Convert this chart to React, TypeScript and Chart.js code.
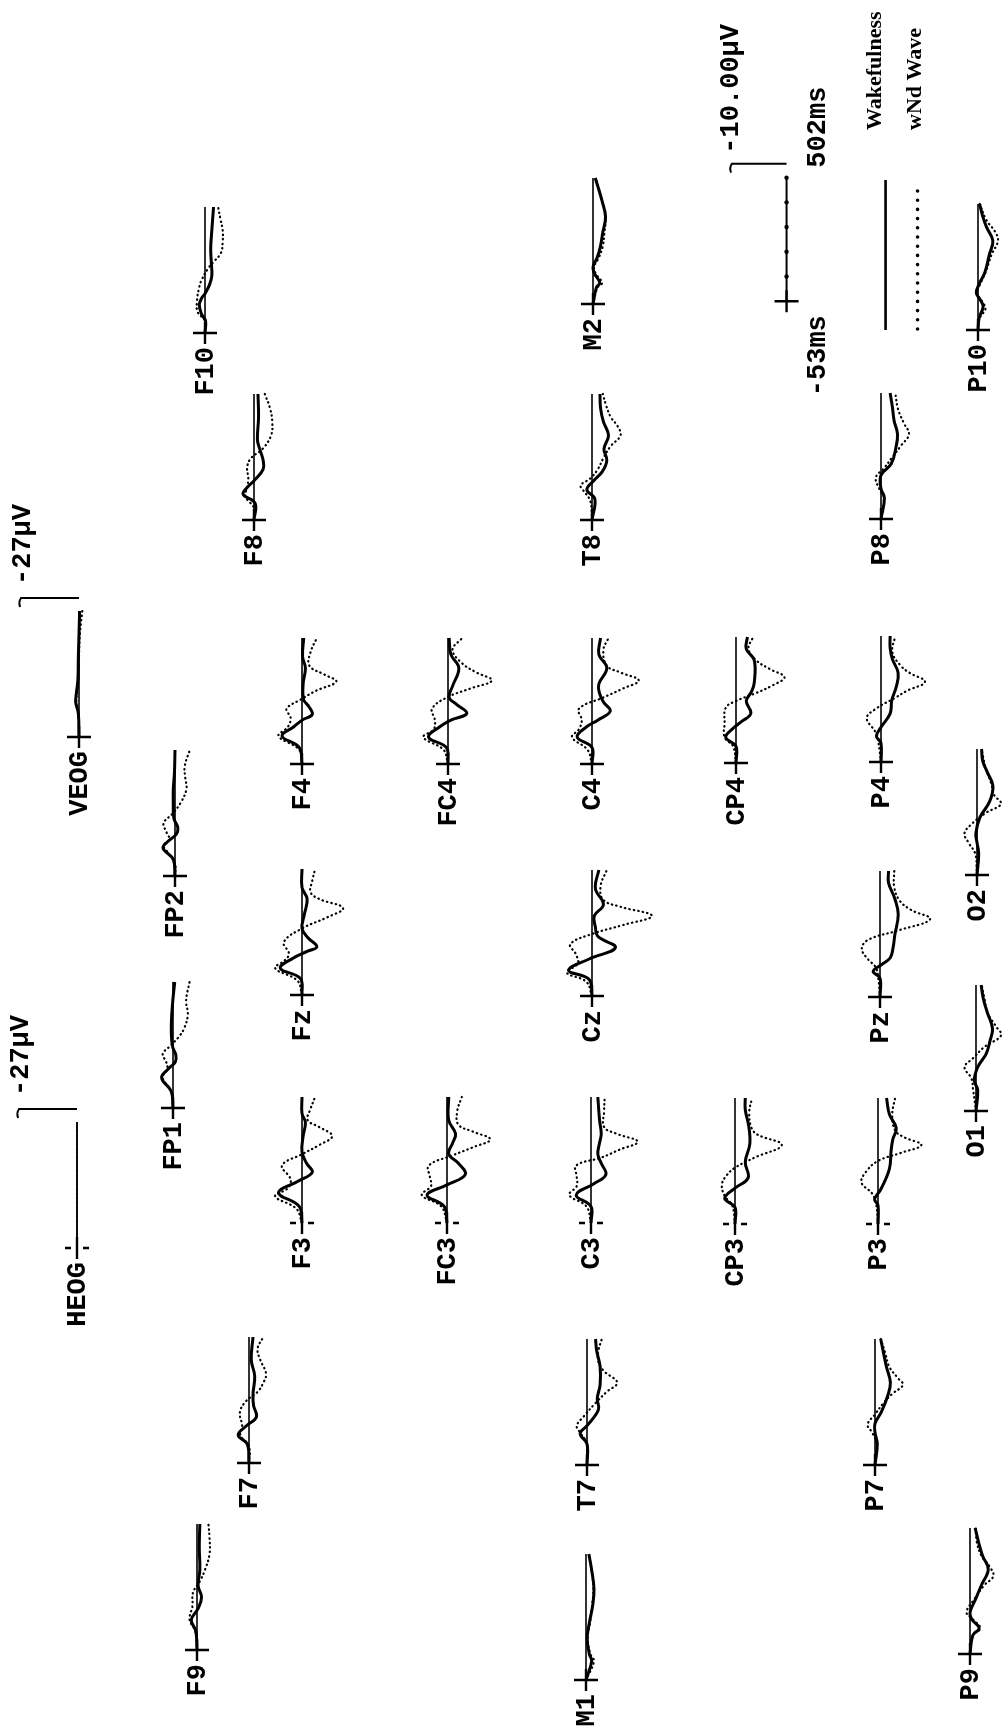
import React, { useEffect, useRef } from "react";
import { Chart, registerables } from "chart.js";

Chart.register(...registerables);

type Pt = [number, number]; // [time in ms, amplitude in µV]

// ---------------- axis / scale values ----------------
const T_START = -53;
const T_END = 502;
const AMP_CAL_UV = -10;
const EOG_CAL_UV = -27;
const CAL_TICKS_MS = [58, 169, 280, 391, 502];
const LEGEND_LABELS = ["Wakefulness", "wNd Wave"];

// ---------------- series (time ms, µV) ----------------
const F10_WAKE: Pt[] = [[-53,0],[0,0.1],[30,-0.6],[70,-1.0],[100,-0.6],[120,0],[160,0.8],[200,1.2],[260,1.1],[320,1.0],[400,1.2],[502,1.5]];
const F10_WND: Pt[] = [[-53,0],[0,0],[40,-1.3],[90,-1.4],[150,-1.0],[180,-0.6],[230,0.5],[260,1.5],[300,2.8],[350,3.1],[400,3.1],[450,2.7],[502,2.3]];
const M2_WAKE: Pt[] = [[-53,0],[20,0.6],[40,1.2],[80,0.3],[110,0],[150,0.7],[200,1.3],[260,1.7],[330,2.2],[400,1.6],[502,0.4]];
const M2_WND: Pt[] = [[-53,0],[20,0.8],[40,1.6],[80,0.5],[110,0.2],[150,1.0],[200,1.7],[260,2.0],[330,2.2],[400,1.6],[502,0.5]];
const P10_WAKE: Pt[] = [[-53,0],[0,0.2],[50,0.9],[80,0.4],[110,-0.3],[150,0.2],[200,1.2],[280,2.0],[340,2.6],[400,1.5],[450,0.8],[502,0.3]];
const P10_WND: Pt[] = [[-53,0],[0,0.3],[40,1.3],[70,0.8],[110,-0.2],[150,0.4],[200,1.3],[280,2.4],[340,3.5],[380,3.0],[430,1.5],[502,0.3]];
const F8_WAKE: Pt[] = [[-53,0],[20,0.2],[60,-1.9],[90,-1.2],[120,0],[170,1.6],[210,1.6],[260,1.0],[300,0.6],[400,0.8],[502,0.7]];
const F8_WND: Pt[] = [[-53,0],[0,0],[50,-1.5],[90,-1.2],[130,-1.0],[180,-1.2],[220,-0.5],[260,1.5],[320,3.0],[380,3.2],[440,2.8],[502,1.9]];
const T8_WAKE: Pt[] = [[-53,0],[40,0.5],[80,-0.9],[120,0.3],[160,1.8],[210,2.6],[260,2.1],[320,2.9],[380,2.0],[440,1.5],[502,1.4]];
const T8_WND: Pt[] = [[-53,0],[30,-0.3],[80,-1.6],[100,-2.0],[130,-0.3],[170,1.0],[220,2.0],[270,3.2],[320,5.0],[360,4.5],[400,3.3],[450,2.5],[502,1.9]];
const P8_WAKE: Pt[] = [[-53,0],[40,0.6],[80,0],[140,0],[190,1.8],[260,2.6],[320,2.9],[380,2.3],[440,2.0],[502,1.6]];
const P8_WND: Pt[] = [[-53,0],[40,0.5],[80,-0.3],[130,-0.9],[170,0.5],[220,2.0],[270,3.5],[320,4.9],[370,4.0],[430,3.0],[502,2.5]];
const VEOG_WAKE: Pt[] = [[-53,0],[50,-0.3],[100,-1.5],[140,-1.2],[200,-0.5],[300,-0.3],[400,0],[502,0.3]];
const VEOG_WND: Pt[] = [[-53,0],[50,-0.2],[100,-1.2],[140,-1.0],[200,-0.3],[300,0],[400,0.4],[502,1.5]];
const FP2_WAKE: Pt[] = [[-53,0],[20,-0.3],[70,-2.1],[100,-1.2],[130,0.2],[160,0.5],[200,-0.2],[260,-0.3],[330,-0.3],[400,-0.1],[502,0]];
const FP2_WND: Pt[] = [[-53,0],[0,0],[50,-1.2],[80,-2.0],[110,-1.0],[140,-1.5],[180,-2.0],[220,-0.5],[270,1.0],[330,2.0],[380,1.8],[430,1.7],[502,2.6]];
const F4_WAKE: Pt[] = [[-53,0],[20,-0.5],[70,-3.5],[110,-1.5],[140,0],[165,1.8],[200,1.2],[230,0.3],[300,0.2],[370,0.6],[420,0.1],[502,0.3]];
const F4_WND: Pt[] = [[-53,0],[10,-0.5],[70,-4.1],[110,-2.5],[150,-2.0],[190,-2.7],[230,-0.3],[270,2.5],[310,6.0],[340,4.0],[380,1.3],[440,1.5],[502,2.6]];
const FC4_WAKE: Pt[] = [[-53,0],[20,-0.3],[65,-3.4],[110,-1.5],[140,0.5],[170,3.3],[210,1.5],[240,0.2],[290,0.8],[370,1.9],[430,0.5],[502,0.2]];
const FC4_WND: Pt[] = [[-53,0],[10,-0.8],[65,-4.3],[100,-2.5],[140,-2.3],[190,-2.8],[240,-0.2],[280,4.0],[315,7.7],[350,5.0],[390,2.5],[450,0.8],[502,2.5]];
const C4_WAKE: Pt[] = [[-53,0],[20,0],[65,-2.6],[110,-1.0],[140,1.0],[180,3.2],[220,2.0],[260,1.3],[300,1.2],[370,2.6],[430,1.2],[502,1.5]];
const C4_WND: Pt[] = [[-53,0],[10,-0.8],[65,-3.5],[100,-2.3],[140,-1.8],[190,-2.3],[240,2.0],[280,5.5],[315,8.2],[350,5.0],[380,2.6],[450,2.0],[502,2.9]];
const CP4_WAKE: Pt[] = [[-53,0],[20,0],[60,-1.8],[100,-0.5],[130,1.0],[165,2.6],[220,1.8],[260,2.7],[300,3.2],[400,3.2],[450,1.8],[502,2.0]];
const CP4_WND: Pt[] = [[-53,0],[20,-0.5],[60,-2.0],[120,-2.0],[190,-1.8],[220,0],[255,3.5],[290,6.5],[325,8.5],[360,6.0],[400,3.5],[450,2.2],[502,3.0]];
const P4_WAKE: Pt[] = [[-53,0],[30,0],[60,-0.8],[100,0],[160,1.6],[220,1.9],[280,2.7],[340,3.0],[400,2.0],[450,1.6],[502,1.6]];
const P4_WND: Pt[] = [[-53,0],[40,-0.5],[80,-1.0],[140,-2.5],[180,-1.0],[230,2.5],[260,4.5],[300,7.7],[340,5.0],[370,3.5],[430,2.0],[502,2.5]];
const O2_WAKE: Pt[] = [[-53,0],[40,0.3],[90,0],[130,-0.2],[200,0.5],[270,2.2],[340,2.8],[400,1.8],[450,1.0],[502,0.8]];
const O2_WND: Pt[] = [[-53,0],[40,-0.3],[90,-1.5],[130,-2.2],[170,-1.0],[220,1.5],[260,4.2],[300,3.0],[350,2.5],[420,1.5],[502,0.8]];
const FP1_WAKE: Pt[] = [[-53,0],[20,-0.3],[80,-2.0],[120,-0.8],[150,0.4],[180,0.5],[220,-0.1],[300,-0.3],[400,-0.1],[502,0.3]];
const FP1_WND: Pt[] = [[-53,0],[20,-0.3],[80,-1.8],[120,-1.0],[150,-1.2],[185,-1.8],[220,-0.5],[260,1.0],[300,2.0],[360,2.6],[420,2.3],[502,2.9]];
const FZ_WAKE: Pt[] = [[-53,0],[20,-0.3],[65,-3.8],[110,-1.5],[140,1.0],[160,2.6],[200,1.0],[240,0],[300,0.4],[370,0.9],[420,0],[502,0]];
const FZ_WND: Pt[] = [[-53,0],[10,-0.8],[65,-4.7],[100,-3.0],[130,-2.3],[180,-3.2],[240,0],[290,4.5],[330,7.2],[370,3.0],[400,1.5],[450,1.8],[502,2.3]];
const CZ_WAKE: Pt[] = [[-53,0],[20,-0.5],[60,-4.1],[110,-0.5],[160,4.1],[210,1.0],[250,0.6],[300,0.4],[350,2.0],[420,0.6],[502,1.2]];
const CZ_WND: Pt[] = [[-53,0],[10,-1.0],[50,-4.4],[90,-2.5],[130,-2.8],[175,-3.8],[220,0],[260,5.5],[300,10.5],[340,5.0],[370,2.0],[430,1.5],[502,2.6]];
const PZ_WAKE: Pt[] = [[-53,0],[30,0],[60,-1.2],[90,0.3],[120,1.8],[165,2.3],[220,2.6],[310,3.2],[380,2.6],[450,1.5],[502,1.5]];
const PZ_WND: Pt[] = [[-53,0],[30,-0.3],[80,-0.8],[110,-2.0],[160,-3.2],[200,-2.0],[240,3.2],[290,8.8],[330,5.5],[370,3.5],[430,2.5],[502,2.5]];
const O1_WAKE: Pt[] = [[-53,0],[40,0.3],[80,-0.3],[140,0.3],[200,1.8],[260,2.5],[310,2.9],[380,2.0],[440,1.3],[502,0.9]];
const O1_WND: Pt[] = [[-53,0],[40,-0.5],[90,-0.8],[140,-2.0],[180,-0.5],[230,1.5],[280,4.4],[320,3.5],[380,2.0],[440,1.5],[502,1.0]];
const F3_WAKE: Pt[] = [[-53,0],[20,-0.5],[80,-4.1],[130,-0.8],[170,1.8],[210,0.8],[260,0],[330,0.2],[390,0.6],[430,0],[502,0]];
const F3_WND: Pt[] = [[-53,0],[10,-1.0],[65,-4.7],[100,-2.5],[140,-2.0],[200,-3.5],[250,0],[290,3.0],[330,5.3],[370,3.0],[400,1.0],[450,1.5],[502,2.3]];
const FC3_WAKE: Pt[] = [[-53,0],[20,-0.5],[70,-3.5],[115,0],[160,3.2],[210,2.0],[250,0.3],[300,1.0],[340,1.5],[400,0.3],[502,0.3]];
const FC3_WND: Pt[] = [[-53,0],[20,-1.0],[70,-4.4],[110,-2.8],[150,-3.0],[200,-3.2],[245,1.0],[280,4.5],[315,7.6],[350,4.5],[380,2.0],[440,1.8],[502,2.6]];
const C3_WAKE: Pt[] = [[-53,0],[20,0],[70,-2.6],[120,0.5],[160,2.6],[210,1.8],[250,1.2],[300,1.5],[340,1.8],[400,1.5],[502,1.2]];
const C3_WND: Pt[] = [[-53,0],[20,-0.8],[70,-3.8],[110,-2.5],[150,-2.5],[200,-2.6],[235,1.8],[270,5.0],[305,8.2],[340,4.5],[370,2.3],[440,2.3],[502,2.4]];
const CP3_WAKE: Pt[] = [[-53,0],[20,0],[60,-1.8],[105,0],[150,2.3],[220,1.8],[300,2.6],[380,2.4],[450,1.8],[502,1.8]];
const CP3_WND: Pt[] = [[-53,0],[30,-0.5],[70,-1.8],[120,-2.3],[160,-1.5],[195,0],[240,3.5],[295,8.2],[340,4.0],[370,2.9],[440,2.5],[502,3.0]];
const P3_WAKE: Pt[] = [[-53,0],[30,0],[55,-0.6],[100,0.5],[190,2.0],[270,2.3],[320,2.6],[370,3.2],[430,2.0],[502,1.5]];
const P3_WND: Pt[] = [[-53,0],[30,-0.3],[80,-1.0],[130,-2.9],[180,-2.0],[225,0],[260,4.0],[295,7.6],[330,4.5],[360,3.0],[430,2.5],[502,3.0]];
const HEOG_WAKE: Pt[] = [[-53,0],[100,0],[200,0],[300,0],[400,0],[502,0]];
const HEOG_WND: Pt[] = [[-53,0],[100,0],[200,0],[300,0],[400,0],[502,0]];
const F7_WAKE: Pt[] = [[-53,0],[30,-0.3],[70,-1.9],[110,-0.5],[150,1.3],[200,0.8],[250,0.7],[330,1.0],[400,0.4],[502,0.7]];
const F7_WND: Pt[] = [[-53,0],[20,0],[70,-1.5],[110,-1.2],[170,-1.6],[220,-0.5],[260,1.5],[300,2.5],[340,3.0],[400,2.0],[450,1.5],[502,2.5]];
const T7_WAKE: Pt[] = [[-53,0],[40,0],[85,-1.2],[120,0],[190,2.0],[240,1.8],[300,2.3],[380,2.3],[450,1.7],[502,1.5]];
const T7_WND: Pt[] = [[-53,0],[40,0],[90,-1.2],[120,-1.8],[160,-0.6],[220,1.5],[270,3.5],[310,5.3],[360,3.0],[400,2.0],[450,2.0],[502,2.6]];
const P7_WAKE: Pt[] = [[-53,0],[40,0.4],[90,0],[130,0],[180,1.1],[250,2.2],[310,2.7],[380,2.0],[440,1.5],[502,1.0]];
const P7_WND: Pt[] = [[-53,0],[40,0.3],[90,-0.5],[125,-1.3],[170,0],[220,1.5],[260,3.0],[300,4.9],[330,4.0],[380,2.5],[440,1.8],[502,1.0]];
const F9_WAKE: Pt[] = [[-53,0],[30,-0.2],[80,-1.0],[130,0.2],[180,0.8],[230,0.2],[300,0.5],[400,0.4],[502,0.5]];
const F9_WND: Pt[] = [[-53,0],[30,-0.3],[80,-1.3],[140,-0.8],[200,-0.7],[250,0.5],[300,1.4],[370,2.2],[440,2.2],[502,2.0]];
const M1_WAKE: Pt[] = [[-53,0],[30,1.0],[60,0.6],[130,0.2],[200,0.6],[280,1.2],[350,1.4],[430,1.0],[502,0.5]];
const M1_WND: Pt[] = [[-53,0],[30,1.4],[60,0.8],[130,0.3],[200,0.7],[280,1.1],[350,1.3],[430,1.0],[502,0.5]];
const P9_WAKE: Pt[] = [[-53,0],[30,0.5],[60,1.6],[100,0.3],[130,0],[190,1.0],[250,2.0],[320,3.2],[380,2.2],[440,1.5],[502,0.9]];
const P9_WND: Pt[] = [[-53,0],[30,0.5],[60,1.8],[100,0.5],[130,-0.6],[190,0.8],[250,2.5],[290,4.1],[330,3.5],[380,2.0],[440,1.2],[502,1.0]];

// ---------------- geometry (layout only) ----------------
const PAGE_W = 1002;
const PAGE_H = 1736;
const BASE_PX = 126;
const PX_PER_MS = BASE_PX / (T_END - T_START);
const PX_PER_UV = 5.7;
const EOG_PX_PER_UV = 2.18;
const CAL_GAP_PX = 13;
const LABEL_FONT = 'bold 27px "Liberation Mono", "DejaVu Sans Mono", monospace';
const LEGEND_FONT = 'bold 22px "Liberation Serif", "DejaVu Serif", serif';

interface Site {
  name: string;
  cx: number;
  cy: number;
  wake: Pt[];
  wnd: Pt[];
  dashed?: boolean;
  eog?: boolean;
}

const SITES: Site[] = [
  { name: "F10", cx: 205, cy: 333, wake: F10_WAKE, wnd: F10_WND },
  { name: "M2", cx: 593, cy: 304, wake: M2_WAKE, wnd: M2_WND },
  { name: "P10", cx: 978, cy: 330, wake: P10_WAKE, wnd: P10_WND },
  { name: "F8", cx: 254, cy: 520, wake: F8_WAKE, wnd: F8_WND },
  { name: "T8", cx: 592, cy: 520, wake: T8_WAKE, wnd: T8_WND },
  { name: "P8", cx: 881, cy: 519, wake: P8_WAKE, wnd: P8_WND },
  { name: "VEOG", cx: 79, cy: 737, wake: VEOG_WAKE, wnd: VEOG_WND, eog: true },
  { name: "FP2", cx: 175, cy: 876, wake: FP2_WAKE, wnd: FP2_WND },
  { name: "F4", cx: 302, cy: 764, wake: F4_WAKE, wnd: F4_WND },
  { name: "FC4", cx: 448, cy: 764, wake: FC4_WAKE, wnd: FC4_WND },
  { name: "C4", cx: 592, cy: 764, wake: C4_WAKE, wnd: C4_WND },
  { name: "CP4", cx: 736, cy: 763, wake: CP4_WAKE, wnd: CP4_WND },
  { name: "P4", cx: 881, cy: 762, wake: P4_WAKE, wnd: P4_WND },
  { name: "O2", cx: 977, cy: 875, wake: O2_WAKE, wnd: O2_WND },
  { name: "FP1", cx: 173, cy: 1108, wake: FP1_WAKE, wnd: FP1_WND },
  { name: "Fz", cx: 302, cy: 995, wake: FZ_WAKE, wnd: FZ_WND },
  { name: "Cz", cx: 592, cy: 996, wake: CZ_WAKE, wnd: CZ_WND },
  { name: "Pz", cx: 880, cy: 997, wake: PZ_WAKE, wnd: PZ_WND },
  { name: "O1", cx: 976, cy: 1111, wake: O1_WAKE, wnd: O1_WND },
  { name: "HEOG", cx: 77, cy: 1248, wake: HEOG_WAKE, wnd: HEOG_WND, eog: true, dashed: true },
  { name: "F3", cx: 302, cy: 1223, wake: F3_WAKE, wnd: F3_WND, dashed: true },
  { name: "FC3", cx: 447, cy: 1223, wake: FC3_WAKE, wnd: FC3_WND, dashed: true },
  { name: "C3", cx: 591, cy: 1223, wake: C3_WAKE, wnd: C3_WND, dashed: true },
  { name: "CP3", cx: 735, cy: 1224, wake: CP3_WAKE, wnd: CP3_WND, dashed: true },
  { name: "P3", cx: 878, cy: 1224, wake: P3_WAKE, wnd: P3_WND, dashed: true },
  { name: "F7", cx: 249, cy: 1463, wake: F7_WAKE, wnd: F7_WND },
  { name: "T7", cx: 587, cy: 1465, wake: T7_WAKE, wnd: T7_WND },
  { name: "P7", cx: 875, cy: 1465, wake: P7_WAKE, wnd: P7_WND },
  { name: "F9", cx: 197, cy: 1650, wake: F9_WAKE, wnd: F9_WND },
  { name: "M1", cx: 586, cy: 1680, wake: M1_WAKE, wnd: M1_WND },
  { name: "P9", cx: 970, cy: 1654, wake: P9_WAKE, wnd: P9_WND },
];

const toXY = (arr: Pt[]) => arr.map(([t, v]) => ({ x: v, y: t }));

function drawRotatedText(ctx: CanvasRenderingContext2D, text: string, x: number, y: number, align: CanvasTextAlign, font: string, maxW?: number) {
  ctx.save();
  ctx.translate(x, y);
  ctx.rotate(-Math.PI / 2);
  ctx.font = font;
  ctx.textAlign = align;
  ctx.textBaseline = "middle";
  if (maxW) ctx.fillText(text, 0, 0, maxW);
  else ctx.fillText(text, 0, 0);
  ctx.restore();
}

function drawCross(ctx: CanvasRenderingContext2D, px: number, py: number, dashed: boolean) {
  ctx.save();
  ctx.strokeStyle = "#000";
  ctx.lineWidth = 2.4;
  ctx.beginPath();
  if (dashed) {
    ctx.moveTo(px - 12, py); ctx.lineTo(px - 6, py);
    ctx.moveTo(px + 6, py); ctx.lineTo(px + 12, py);
  } else {
    ctx.moveTo(px - 12, py); ctx.lineTo(px + 12, py);
  }
  ctx.moveTo(px, py - 11); ctx.lineTo(px, py + 11);
  ctx.stroke();
  ctx.restore();
}

function drawCalBar(ctx: CanvasRenderingContext2D, lx: number, rx: number, y: number) {
  ctx.save();
  ctx.strokeStyle = "#000";
  ctx.lineWidth = 2;
  ctx.beginPath();
  ctx.moveTo(rx, y);
  ctx.lineTo(lx, y);
  ctx.moveTo(lx + 1, y);
  ctx.quadraticCurveTo(lx - 2, y + 4, lx, y + 9);
  ctx.stroke();
  ctx.restore();
}

const siteDecor = {
  id: "siteDecor",
  afterDatasetsDraw(chart: any, _args: any, opts: any) {
    const ctx: CanvasRenderingContext2D = chart.ctx;
    const xs = chart.scales.x;
    const ys = chart.scales.y;
    const px = xs.getPixelForValue(0);
    const py = ys.getPixelForValue(T_START);
    ctx.save();
    ctx.fillStyle = "#000";
    drawCross(ctx, px, py, !!opts.dashed);
    drawRotatedText(ctx, opts.label, px + 1, py + 14, "right", LABEL_FONT);
    if (opts.eog) {
      const barY = ys.getPixelForValue(T_END) - CAL_GAP_PX;
      const lx = xs.getPixelForValue(EOG_CAL_UV);
      drawCalBar(ctx, lx, px, barY);
      drawRotatedText(ctx, `${EOG_CAL_UV}µV`, lx + 3, barY - 13, "left", LABEL_FONT);
    }
    ctx.restore();
  },
};

const calDecor = {
  id: "calDecor",
  afterDatasetsDraw(chart: any) {
    const ctx: CanvasRenderingContext2D = chart.ctx;
    const xs = chart.scales.x;
    const ys = chart.scales.y;
    const px = xs.getPixelForValue(0);
    const py = ys.getPixelForValue(T_START);
    const topY = ys.getPixelForValue(T_END);
    const barY = topY - 14;
    const lx = xs.getPixelForValue(AMP_CAL_UV);
    ctx.save();
    ctx.fillStyle = "#000";
    drawCross(ctx, px, py, false);
    drawCalBar(ctx, lx, px, barY);
    drawRotatedText(ctx, `${AMP_CAL_UV.toFixed(2)}µV`, lx, barY - 10, "left", LABEL_FONT);
    drawRotatedText(ctx, `${T_END}ms`, px + 32, topY - 10, "left", LABEL_FONT);
    drawRotatedText(ctx, `${T_START}ms`, px + 32, py + 95, "left", LABEL_FONT);
    // legend
    const sx = px + 99;
    const dx = px + 131;
    drawRotatedText(ctx, LEGEND_LABELS[0], sx - 10, 130, "left", LEGEND_FONT, 120);
    drawRotatedText(ctx, LEGEND_LABELS[1], dx - 2, 130, "left", LEGEND_FONT, 103);
    ctx.strokeStyle = "#000";
    ctx.lineWidth = 2.6;
    ctx.beginPath();
    ctx.moveTo(sx, 180);
    ctx.lineTo(sx, 330);
    ctx.stroke();
    ctx.lineWidth = 3.6;
    ctx.lineCap = "round";
    ctx.setLineDash([0, 9.2]);
    ctx.beginPath();
    ctx.moveTo(dx, 191);
    ctx.lineTo(dx, 330);
    ctx.stroke();
    ctx.restore();
  },
};

function baseOptions(L: number, R: number, T: number, B: number, ppu: number, pluginOpts: any) {
  return {
    responsive: false,
    animation: false as const,
    devicePixelRatio: 1,
    events: [],
    layout: { padding: 0 },
    plugins: {
      legend: { display: false },
      tooltip: { enabled: false },
      title: { display: false },
      siteDecor: pluginOpts,
    },
    scales: {
      x: { type: "linear" as const, display: false, min: -L / ppu, max: R / ppu },
      y: {
        type: "linear" as const,
        display: false,
        min: T_START - B / PX_PER_MS,
        max: T_END + T / PX_PER_MS,
      },
    },
  };
}

function SiteChart({ site }: { site: Site }) {
  const ref = useRef<HTMLCanvasElement>(null);
  const L = site.eog ? site.cx : 65;
  const R = site.eog ? 40 : 110;
  const T = site.eog ? 140 : 10;
  const B = site.eog ? 100 : 95;
  const W = L + R;
  const H = T + BASE_PX + B;
  useEffect(() => {
    const ppu = site.eog ? EOG_PX_PER_UV : PX_PER_UV;
    const thin = site.name === "HEOG";
    const chart = new Chart(ref.current as HTMLCanvasElement, {
      type: "scatter",
      data: {
        datasets: [
          {
            label: LEGEND_LABELS[0],
            data: toXY(site.wake),
            showLine: true,
            borderColor: "#000",
            borderWidth: thin ? 1.4 : 3,
            pointRadius: 0,
            tension: 0.4,
          },
          {
            label: LEGEND_LABELS[1],
            data: toXY(site.wnd),
            showLine: true,
            borderColor: "#000",
            borderWidth: thin ? 1.4 : 2.2,
            borderDash: [0.5, 4],
            borderCapStyle: "round",
            pointRadius: 0,
            tension: 0.4,
          },
          {
            label: "baseline",
            data: [{ x: 0, y: T_START }, { x: 0, y: T_END }],
            showLine: true,
            borderColor: "#000",
            borderWidth: 1.6,
            pointRadius: 0,
          },
        ],
      },
      options: baseOptions(L, R, T, B, ppu, { label: site.name, dashed: !!site.dashed, eog: !!site.eog }) as any,
      plugins: [siteDecor],
    });
    return () => chart.destroy();
  }, []);
  return (
    <canvas
      ref={ref}
      width={W}
      height={H}
      style={{ position: "absolute", left: site.cx - L, top: site.cy - BASE_PX - T, width: W, height: H }}
    />
  );
}

function CalibrationChart() {
  const ref = useRef<HTMLCanvasElement>(null);
  const cx = 785, cy = 303;
  const L = 95, R = 217, T = 177, B = 117;
  const W = L + R, H = T + BASE_PX + B;
  useEffect(() => {
    const chart = new Chart(ref.current as HTMLCanvasElement, {
      type: "scatter",
      data: {
        datasets: [
          {
            label: "time axis",
            data: [{ x: 0, y: T_START }, { x: 0, y: T_END }],
            showLine: true,
            borderColor: "#000",
            borderWidth: 2,
            pointRadius: 0,
          },
          {
            label: "ticks",
            data: CAL_TICKS_MS.map((t) => ({ x: 0, y: t })),
            showLine: false,
            pointRadius: 2.2,
            pointBackgroundColor: "#000",
            pointBorderWidth: 0,
          },
        ],
      },
      options: baseOptions(L, R, T, B, PX_PER_UV, {}) as any,
      plugins: [calDecor],
    });
    return () => chart.destroy();
  }, []);
  return (
    <canvas
      ref={ref}
      width={W}
      height={H}
      style={{ position: "absolute", left: cx - L, top: cy - BASE_PX - T, width: W, height: H }}
    />
  );
}

export default function App() {
  return (
    <div style={{ position: "relative", width: PAGE_W, height: PAGE_H, overflow: "hidden", background: "#fff" }}>
      <style>{`html,body{margin:0;padding:0;background:#fff;}`}</style>
      <CalibrationChart />
      {SITES.map((s) => (
        <SiteChart key={s.name} site={s} />
      ))}
    </div>
  );
}
